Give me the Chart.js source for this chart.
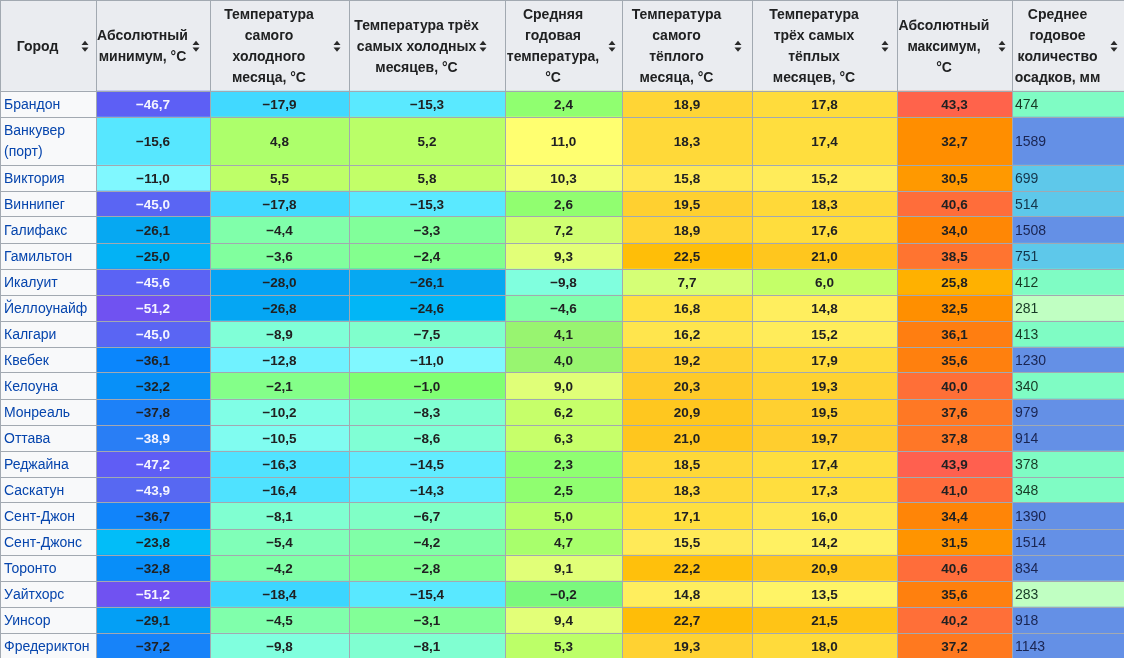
<!DOCTYPE html>
<html>
<head>
<meta charset="utf-8">
<title>Климат городов Канады</title>
<script src="https://cdn.jsdelivr.net/npm/chart.js"></script>
<style>
  html, body { margin: 0; padding: 0; background: #fff; }
  canvas { display: block; }
</style>
</head>
<body>
<canvas id="climateTable" width="1124" height="658"></canvas>

<script>
// ---- table data ----
const headers = [
    ['Город'],
    ['Абсолютный', 'минимум, °С'],
    ['Температура', 'самого', 'холодного', 'месяца, °С'],
    ['Температура трёх', 'самых холодных', 'месяцев, °С'],
    ['Средняя', 'годовая', 'температура,', '°С'],
    ['Температура', 'самого', 'тёплого', 'месяца, °С'],
    ['Температура', 'трёх самых', 'тёплых', 'месяцев, °С'],
    ['Абсолютный', 'максимум,', '°С'],
    ['Среднее', 'годовое', 'количество', 'осадков, мм']
];

const cities = ['Брандон', 'Ванкувер\n(порт)', 'Виктория', 'Виннипег', 'Галифакс', 'Гамильтон',
    'Икалуит', 'Йеллоунайф', 'Калгари', 'Квебек', 'Келоуна', 'Монреаль', 'Оттава', 'Реджайна',
    'Саскатун', 'Сент-Джон', 'Сент-Джонс', 'Торонто', 'Уайтхорс', 'Уинсор', 'Фредериктон'];

const absMin     = [-46.7, -15.6, -11.0, -45.0, -26.1, -25.0, -45.6, -51.2, -45.0, -36.1, -32.2, -37.8, -38.9, -47.2, -43.9, -36.7, -23.8, -32.8, -51.2, -29.1, -37.2];
const coldMonth  = [-17.9, 4.8, 5.5, -17.8, -4.4, -3.6, -28.0, -26.8, -8.9, -12.8, -2.1, -10.2, -10.5, -16.3, -16.4, -8.1, -5.4, -4.2, -18.4, -4.5, -9.8];
const coldThree  = [-15.3, 5.2, 5.8, -15.3, -3.3, -2.4, -26.1, -24.6, -7.5, -11.0, -1.0, -8.3, -8.6, -14.5, -14.3, -6.7, -4.2, -2.8, -15.4, -3.1, -8.1];
const annualMean = [2.4, 11.0, 10.3, 2.6, 7.2, 9.3, -9.8, -4.6, 4.1, 4.0, 9.0, 6.2, 6.3, 2.3, 2.5, 5.0, 4.7, 9.1, -0.2, 9.4, 5.3];
const warmMonth  = [18.9, 18.3, 15.8, 19.5, 18.9, 22.5, 7.7, 16.8, 16.2, 19.2, 20.3, 20.9, 21.0, 18.5, 18.3, 17.1, 15.5, 22.2, 14.8, 22.7, 19.3];
const warmThree  = [17.8, 17.4, 15.2, 18.3, 17.6, 21.0, 6.0, 14.8, 15.2, 17.9, 19.3, 19.5, 19.7, 17.4, 17.3, 16.0, 14.2, 20.9, 13.5, 21.5, 18.0];
const absMax     = [43.3, 32.7, 30.5, 40.6, 34.0, 38.5, 25.8, 32.5, 36.1, 35.6, 40.0, 37.6, 37.8, 43.9, 41.0, 34.4, 31.5, 40.6, 35.6, 40.2, 37.2];
const precip     = [474, 1589, 699, 514, 1508, 751, 412, 281, 413, 1230, 340, 979, 914, 378, 348, 1390, 1514, 834, 283, 918, 1143];

const columns = [cities, absMin, coldMonth, coldThree, annualMean, warmMonth, warmThree, absMax, precip];

// ---- layout ----
const colWidths = [96, 114, 139, 156, 117, 130, 145, 115, 112];
const arrowInset = [11, 14, 12, 22, 10, 14, 12, 10, 10];
const headerHeight = 91;
const rowHeight = 26;
const extraLine = 22;

const FONT = '"Liberation Sans", Arial, sans-serif';

const colEdges = [0];
colWidths.forEach(w => colEdges.push(colEdges[colEdges.length - 1] + w));
const rowEdges = [0, headerHeight];
cities.forEach(name => {
    const lines = name.split('\n').length;
    rowEdges.push(rowEdges[rowEdges.length - 1] + rowHeight + extraLine * (lines - 1));
});

// colour scale for temperatures (°C)
const tempStops = [
    [-52, '#7450f0'], [-47, '#5e5ef5'], [-44, '#5868f2'], [-39, '#2a7ef5'], [-36, '#0a86fc'],
    [-32, '#0890f8'], [-29, '#04a0f5'], [-26, '#06a8f2'], [-24, '#00bcf8'], [-18, '#40d8ff'],
    [-15.5, '#58e8ff'], [-11, '#80f8ff'], [-10, '#80ffe0'], [-8, '#80ffd0'], [-6, '#80ffc0'],
    [-4, '#80ffa4'], [-2, '#84ff88'], [-1, '#80ff72'], [0, '#78f880'], [2.4, '#90ff70'],
    [4.1, '#98f470'], [4.7, '#a8ff6c'], [5, '#b8ff68'], [6, '#c4ff68'], [8, '#d8ff78'],
    [9.5, '#e4ff78'], [11, '#ffff70'], [14, '#fff264'], [15.5, '#ffea58'], [17, '#ffe040'],
    [18.5, '#ffd838'], [20, '#ffcc2c'], [22.5, '#ffbe08'], [26, '#ffb000'], [30, '#ff9c00'],
    [33, '#ff8c00'], [36, '#ff7e10'], [38.5, '#ff7430'], [41, '#ff6c3c'], [44, '#ff6050']
];

function hexToRgb(h) {
    return [parseInt(h.slice(1, 3), 16), parseInt(h.slice(3, 5), 16), parseInt(h.slice(5, 7), 16)];
}

function tempColor(v) {
    if (v <= tempStops[0][0]) return tempStops[0][1];
    for (let i = 1; i < tempStops.length; i++) {
        const [v1, c1] = tempStops[i];
        if (v <= v1) {
            const [v0, c0] = tempStops[i - 1];
            const t = (v - v0) / (v1 - v0);
            const a = hexToRgb(c0), b = hexToRgb(c1);
            const m = a.map((x, k) => Math.round(x + (b[k] - x) * t));
            return 'rgb(' + m.join(',') + ')';
        }
    }
    return tempStops[tempStops.length - 1][1];
}

function precipColor(v) {
    if (v < 300) return '#c0ffc2';
    if (v < 500) return '#7ffcc4';
    if (v < 800) return '#5ec8ea';
    return '#6490e6';
}

function cellColor(c, j) {
    if (j === 0) return '#eaecf0';
    const v = columns[c][j - 1];
    if (c === 0) return '#f8f9fa';
    if (c === columns.length - 1) return precipColor(v);
    return tempColor(v);
}

function fmt(v) {
    return v.toFixed(1).replace('.', ',').replace('-', '\u2212');
}

// ---- datasets: one floating bar per cell, one dataset per column ----
const datasets = columns.map((col, c) => {
    const center = (colEdges[c] + colEdges[c + 1]) / 2;
    const data = [{ x: center, y: [rowEdges[0], rowEdges[1]] }];
    col.forEach((v, i) => data.push({ x: center, y: [rowEdges[i + 1], rowEdges[i + 2]] }));
    return {
        label: headers[c].join(' '),
        data: data,
        backgroundColor: ctx => cellColor(c, ctx.dataIndex),
        borderWidth: 0,
        barThickness: colWidths[c],
        stack: 'table'
    };
});

// draws header texts, sort arrows and cell values on top of the bars
const tableText = {
    id: 'tableText',
    afterDraw(chart) {
        const ctx = chart.ctx;
        ctx.save();
        ctx.textBaseline = 'middle';
        chart.data.datasets.forEach((ds, c) => {
            const meta = chart.getDatasetMeta(c);
            meta.data.forEach((el, j) => {
                const p = el.getProps(['x', 'y', 'base', 'width'], true);
                const left = p.x - p.width / 2;
                const right = p.x + p.width / 2;
                const cy = (p.y + p.base) / 2;
                if (j === 0) {
                    const lines = headers[c];
                    ctx.fillStyle = '#202122';
                    ctx.font = 'bold 14px ' + FONT;
                    ctx.textAlign = 'center';
                    const tx = (left + right - 21) / 2;
                    lines.forEach((t, k) => {
                        ctx.fillText(t, tx, cy + 1 + (k - (lines.length - 1) / 2) * 21);
                    });
                    // sort arrows
                    const ax = right - arrowInset[c];
                    const ay = cy + 0.5;
                    ctx.fillStyle = '#2a2a2a';
                    ctx.beginPath();
                    ctx.moveTo(ax - 3.5, ay - 1.2);
                    ctx.lineTo(ax + 3.5, ay - 1.2);
                    ctx.lineTo(ax, ay - 5.5);
                    ctx.closePath();
                    ctx.moveTo(ax - 3.5, ay + 1.2);
                    ctx.lineTo(ax + 3.5, ay + 1.2);
                    ctx.lineTo(ax, ay + 5.5);
                    ctx.closePath();
                    ctx.fill();
                    return;
                }
                const v = columns[c][j - 1];
                if (c === 0) {
                    const lines = v.split('\n');
                    ctx.fillStyle = '#0645ad';
                    ctx.font = '14px ' + FONT;
                    ctx.textAlign = 'left';
                    lines.forEach((t, k) => {
                        ctx.fillText(t, left + 4, cy + 1 + (k - (lines.length - 1) / 2) * 21);
                    });
                } else if (c === columns.length - 1) {
                    ctx.fillStyle = v >= 800 ? '#1a2552' : (v >= 500 ? '#15354a' : '#173a26');
                    ctx.font = '14px ' + FONT;
                    ctx.textAlign = 'left';
                    ctx.fillText(String(v), left + 3, cy + 1);
                } else {
                    ctx.fillStyle = (c === 1 && v < -38) ? '#f4f4ff' : '#202122';
                    ctx.font = 'bold 13.5px ' + FONT;
                    ctx.textAlign = 'center';
                    ctx.fillText(fmt(v), p.x, cy + 1);
                }
            });
        });
        ctx.restore();
    }
};

const gridScale = (edges, max, extra) => Object.assign({
    type: 'linear',
    min: 0,
    max: max,
    offset: false,
    ticks: { display: false },
    grid: { color: '#a2a9b1', lineWidth: 1, drawTicks: false, offset: false, z: 1 },
    border: { display: false },
    afterBuildTicks: scale => { scale.ticks = edges.map(v => ({ value: v })); }
}, extra);

new Chart(document.getElementById('climateTable'), {
    type: 'bar',
    data: { datasets: datasets },
    options: {
        responsive: false,
        animation: false,
        devicePixelRatio: 1,
        layout: { padding: 0 },
        plugins: {
            legend: { display: false },
            tooltip: { enabled: false }
        },
        scales: {
            x: gridScale(colEdges, 1124, {}),
            y: gridScale(rowEdges, 658, { reverse: true, stacked: false })
        }
    },
    plugins: [tableText]
});
</script>
</body>
</html>
